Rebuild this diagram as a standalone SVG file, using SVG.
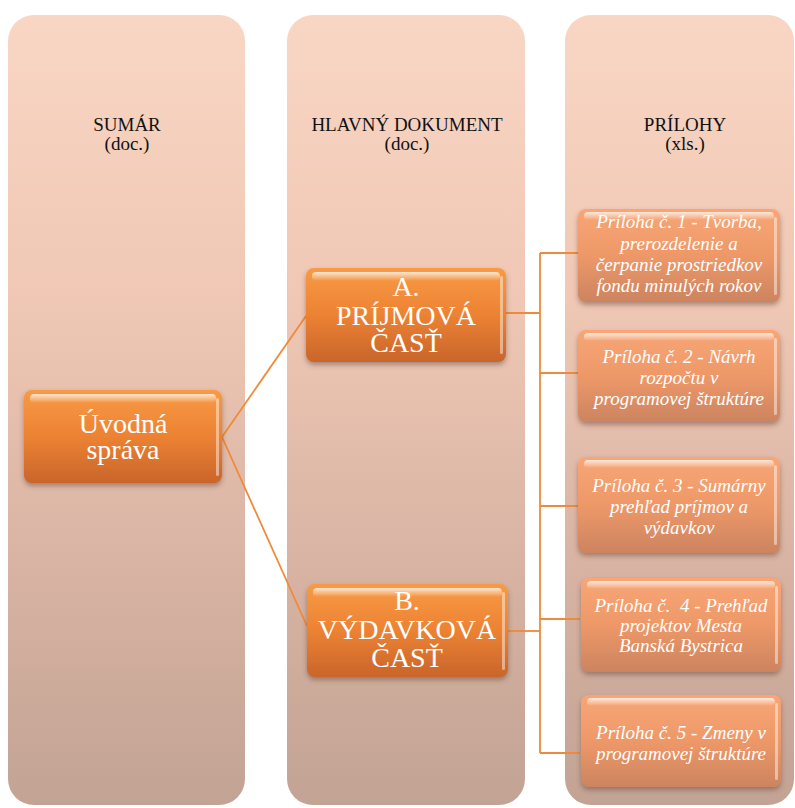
<svg xmlns="http://www.w3.org/2000/svg" width="795" height="808" viewBox="0 0 795 808">
<defs>
<linearGradient id="colG" x1="0" y1="0" x2="0" y2="1">
<stop offset="0" stop-color="#F9D6C4"/>
<stop offset="0.35" stop-color="#F0C8B5"/>
<stop offset="0.7" stop-color="#D8B3A3"/>
<stop offset="1" stop-color="#C2A394"/>
</linearGradient>
<linearGradient id="mainG" x1="0" y1="0" x2="0" y2="1">
<stop offset="0" stop-color="#F89A45"/>
<stop offset="0.5" stop-color="#EC8233"/>
<stop offset="1" stop-color="#C9652B"/>
</linearGradient>
<linearGradient id="priG" x1="0" y1="0" x2="0" y2="1">
<stop offset="0" stop-color="#F8A676"/>
<stop offset="0.5" stop-color="#EE9868"/>
<stop offset="1" stop-color="#CC8460"/>
</linearGradient>
<linearGradient id="hiG" x1="0" y1="0" x2="0" y2="1">
<stop offset="0" stop-color="#FFFFFF" stop-opacity="0.75"/>
<stop offset="1" stop-color="#FFFFFF" stop-opacity="0"/>
</linearGradient>
<filter id="sh" x="-10%" y="-10%" width="120%" height="130%">
<feDropShadow dx="0" dy="3" stdDeviation="2.5" flood-color="#5A3A2A" flood-opacity="0.45"/>
</filter>
</defs>
<style>
.col{fill:url(#colG);}
.hdr{font-family:"Liberation Serif","Times New Roman",serif;font-size:19px;fill:#111;text-anchor:middle;}
.main{fill:url(#mainG);filter:url(#sh);}
.pri{fill:url(#priG);filter:url(#sh);}
.hi{fill:url(#hiG);}
.edge{fill:#FFFFFF;opacity:0.45;}
.mt{font-family:"Liberation Serif","Times New Roman",serif;font-size:28px;fill:#FFFFFF;text-anchor:middle;}
.pt{font-family:"Liberation Serif","Times New Roman",serif;font-style:italic;font-size:19px;fill:#FFFFFF;text-anchor:middle;white-space:pre;}
.cn{stroke:#EF8A3A;stroke-width:1.8;fill:none;}
</style>
<g id="col-sumar">
<rect class="col" x="8" y="15" width="237" height="790" rx="26"/>
<text class="hdr" x="127" y="131">SUMÁR</text>
<text class="hdr" x="127" y="150">(doc.)</text>
</g>
<g id="col-hlavny">
<rect class="col" x="287" y="15" width="238" height="790" rx="26"/>
<text class="hdr" x="407" y="131">HLAVNÝ DOKUMENT</text>
<text class="hdr" x="407" y="150">(doc.)</text>
</g>
<g id="col-prilohy">
<rect class="col" x="565" y="15" width="229" height="790" rx="26"/>
<text class="hdr" x="685" y="131">PRÍLOHY</text>
<text class="hdr" x="685" y="150">(xls.)</text>
</g>
<g id="connectors">
<line class="cn" x1="222" y1="437" x2="306" y2="316"/>
<line class="cn" x1="222" y1="437" x2="307" y2="626"/>
<line class="cn" x1="506" y1="313" x2="540" y2="313"/>
<line class="cn" x1="508" y1="631" x2="540" y2="631"/>
<line class="cn" x1="540" y1="253" x2="540" y2="753"/>
<line class="cn" x1="540" y1="253" x2="578" y2="253"/>
<line class="cn" x1="540" y1="373" x2="578" y2="373"/>
<line class="cn" x1="540" y1="506" x2="578" y2="506"/>
<line class="cn" x1="540" y1="619" x2="580" y2="619"/>
<line class="cn" x1="540" y1="753" x2="580" y2="753"/>
</g>
<g id="uvodna">
<rect class="main" x="24" y="390" width="198" height="93" rx="8"/>
<rect class="hi" x="30" y="394" width="186" height="9" rx="4"/>
<rect class="edge" x="216" y="398" width="3" height="78" rx="1.5"/>
<text class="mt" x="123" y="433">Úvodná</text>
<text class="mt" x="123" y="459">správa</text>
</g>
<g id="prijmova">
<rect class="main" x="306" y="268" width="200" height="94" rx="8"/>
<rect class="hi" x="312" y="272" width="188" height="9" rx="4"/>
<rect class="edge" x="500" y="276" width="3" height="78" rx="1.5"/>
<text class="mt" x="406" y="296">A.</text>
<text class="mt" x="406" y="325">PRÍJMOVÁ</text>
<text class="mt" x="406" y="352">ČASŤ</text>
</g>
<g id="vydavkova">
<rect class="main" x="307" y="584" width="201" height="93" rx="8"/>
<rect class="hi" x="313" y="588" width="189" height="9" rx="4"/>
<rect class="edge" x="502" y="592" width="3" height="78" rx="1.5"/>
<text class="mt" x="407" y="610">B.</text>
<text class="mt" x="407" y="639">VÝDAVKOVÁ</text>
<text class="mt" x="407" y="667">ČASŤ</text>
</g>
<g id="priloha1">
<rect class="pri" x="578" y="209" width="202" height="93" rx="8"/>
<rect class="hi" x="584" y="212" width="190" height="8" rx="4"/>
<rect class="edge" x="774" y="217" width="3" height="78" rx="1.5"/>
<text class="pt" x="679" y="228">Príloha č. 1 - Tvorba,</text>
<text class="pt" x="679" y="250">prerozdelenie a</text>
<text class="pt" x="679" y="271">čerpanie prostriedkov</text>
<text class="pt" x="679" y="292">fondu minulých rokov</text>
</g>
<g id="priloha2">
<rect class="pri" x="578" y="330" width="202" height="92" rx="8"/>
<rect class="hi" x="584" y="333" width="190" height="8" rx="4"/>
<rect class="edge" x="774" y="338" width="3" height="77" rx="1.5"/>
<text class="pt" x="679" y="363">Príloha č. 2 - Návrh</text>
<text class="pt" x="679" y="384">rozpočtu v</text>
<text class="pt" x="679" y="405">programovej štruktúre</text>
</g>
<g id="priloha3">
<rect class="pri" x="578" y="457" width="202" height="96" rx="8"/>
<rect class="hi" x="584" y="460" width="190" height="8" rx="4"/>
<rect class="edge" x="774" y="465" width="3" height="80" rx="1.5"/>
<text class="pt" x="679" y="492">Príloha č. 3 - Sumárny</text>
<text class="pt" x="679" y="513">prehľad príjmov a</text>
<text class="pt" x="679" y="534">výdavkov</text>
</g>
<g id="priloha4">
<rect class="pri" x="581" y="578" width="200" height="94" rx="8"/>
<rect class="hi" x="587" y="581" width="188" height="8" rx="4"/>
<rect class="edge" x="775" y="586" width="3" height="78" rx="1.5"/>
<text class="pt" x="681" y="612">Príloha č.  4 - Prehľad</text>
<text class="pt" x="681" y="632">projektov Mesta</text>
<text class="pt" x="681" y="652">Banská Bystrica</text>
</g>
<g id="priloha5">
<rect class="pri" x="581" y="695" width="200" height="92" rx="8"/>
<rect class="hi" x="587" y="698" width="188" height="8" rx="4"/>
<rect class="edge" x="775" y="703" width="3" height="77" rx="1.5"/>
<text class="pt" x="681" y="739">Príloha č. 5 - Zmeny v</text>
<text class="pt" x="681" y="760">programovej štruktúre</text>
</g>
</svg>
